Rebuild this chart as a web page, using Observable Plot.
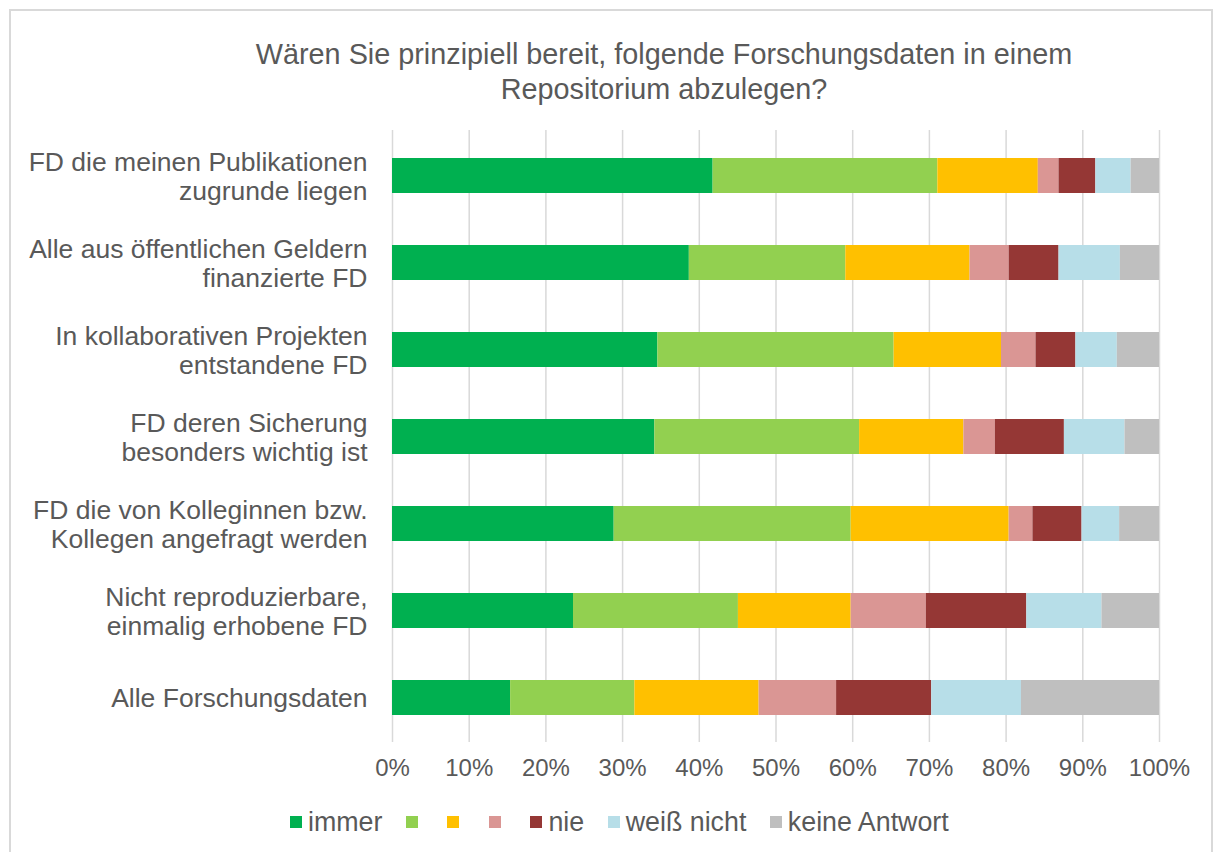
<!DOCTYPE html>
<html>
<head>
<meta charset="utf-8">
<script src="https://cdn.jsdelivr.net/npm/d3@7"></script>
<script src="https://cdn.jsdelivr.net/npm/@observablehq/plot@0.6"></script>
<style>
  html, body { margin: 0; padding: 0; background: #fff; }
  #page { position: relative; width: 1215px; height: 852px; overflow: hidden; font-family: "Liberation Sans", Arial, sans-serif; color: #595959; }
  #frame { position: absolute; left: 9px; top: 9px; width: 1204px; height: 900px; border: 2px solid #D9D9D9; box-sizing: border-box; }
  #title { position: absolute; left: 164px; width: 1000px; top: 37px; text-align: center; font-size: 28.8px; line-height: 35px; color: #595959; }
  #chart { position: absolute; left: 0; top: 0; }
  #legend { position: absolute; left: 290px; top: 806px; height: 32px; display: flex; align-items: center; font-size: 26.8px; color: #595959; white-space: nowrap; }
  .item { display: flex; align-items: center; margin-right: 23.5px; }
  .sw { width: 12px; height: 12px; margin-right: 6px; }
</style>
</head>
<body>
<div id="page">
  <div id="frame"></div>
  <div id="title">Wären Sie prinzipiell bereit, folgende Forschungsdaten in einem<br>Repositorium abzulegen?</div>
  <div id="chart"></div>
  <div id="legend"></div>
</div>
<script>
const categories = [
  "FD die meinen Publikationen\nzugrunde liegen",
  "Alle aus öffentlichen Geldern\nfinanzierte FD",
  "In kollaborativen Projekten\nentstandene FD",
  "FD deren Sicherung\nbesonders wichtig ist",
  "FD die von Kolleginnen bzw.\nKollegen angefragt werden",
  "Nicht reproduzierbare,\neinmalig erhobene FD",
  "Alle Forschungsdaten"
];
const seriesKeys = ["immer", "s2", "s3", "s4", "nie", "weiß nicht", "keine Antwort"];
const seriesLabels = ["immer", "", "", "", "nie", "weiß nicht", "keine Antwort"];
const seriesColors = ["#00B050", "#92D050", "#FFC000", "#DA9694", "#953735", "#B7DEE8", "#BFBFBF"];

const immer        = [41.8, 38.7, 34.6, 34.2, 28.9, 23.6, 15.4];
const s2           = [29.3, 20.4, 30.8, 26.7, 30.9, 21.5, 16.2];
const s3           = [13.1, 16.2, 14.0, 13.6, 20.6, 14.7, 16.2];
const s4           = [ 2.7,  5.1,  4.5,  4.1,  3.1,  9.8, 10.1];
const nie          = [ 4.8,  6.5,  5.2,  9.0,  6.4, 13.1, 12.4];
const weissNicht   = [ 4.6,  8.0,  5.4,  7.9,  4.9,  9.8, 11.7];
const keineAntwort = [ 3.7,  5.1,  5.5,  4.5,  5.2,  7.5, 18.0];

const xTicks = [0, 10, 20, 30, 40, 50, 60, 70, 80, 90, 100];

const seriesValues = [immer, s2, s3, s4, nie, weissNicht, keineAntwort];
const rows = [];
categories.forEach((c, i) => {
  seriesKeys.forEach((k, j) => {
    rows.push({category: c, series: k, value: seriesValues[j][i]});
  });
});

const chart = Plot.plot({
  width: 1215,
  height: 802,
  marginTop: 130,
  marginBottom: 60,
  marginLeft: 392,
  marginRight: 56,
  style: {fontFamily: "'Liberation Sans', Arial, sans-serif", color: "#595959", background: "transparent"},
  x: {domain: [0, 100], ticks: xTicks, tickFormat: d => d + "%"},
  y: {domain: categories, paddingInner: 0.6, paddingOuter: 0.3},
  color: {domain: seriesKeys, range: seriesColors},
  marks: [
    Plot.gridX(xTicks, {stroke: "#D9D9D9", strokeWidth: 1.5, strokeOpacity: 1}),
    Plot.barX(rows, {x: "value", y: "category", fill: "series", order: seriesKeys}),
    Plot.axisX({ticks: xTicks, tickFormat: d => d + "%", tickSize: 0, tickPadding: 16, fontSize: 24, fill: "#595959", label: null}),
    Plot.axisY({tickSize: 0, tickPadding: 25, fontSize: 26.5, fill: "#595959", lineHeight: 1.1, label: null, textAnchor: "end"})
  ]
});
document.getElementById("chart").appendChild(chart);

const legend = document.getElementById("legend");
seriesKeys.forEach((k, j) => {
  const item = document.createElement("div");
  item.className = "item";
  const sw = document.createElement("div");
  sw.className = "sw";
  sw.style.background = seriesColors[j];
  item.appendChild(sw);
  const lab = document.createElement("span");
  lab.textContent = seriesLabels[j];
  item.appendChild(lab);
  legend.appendChild(item);
});
</script>
</body>
</html>
